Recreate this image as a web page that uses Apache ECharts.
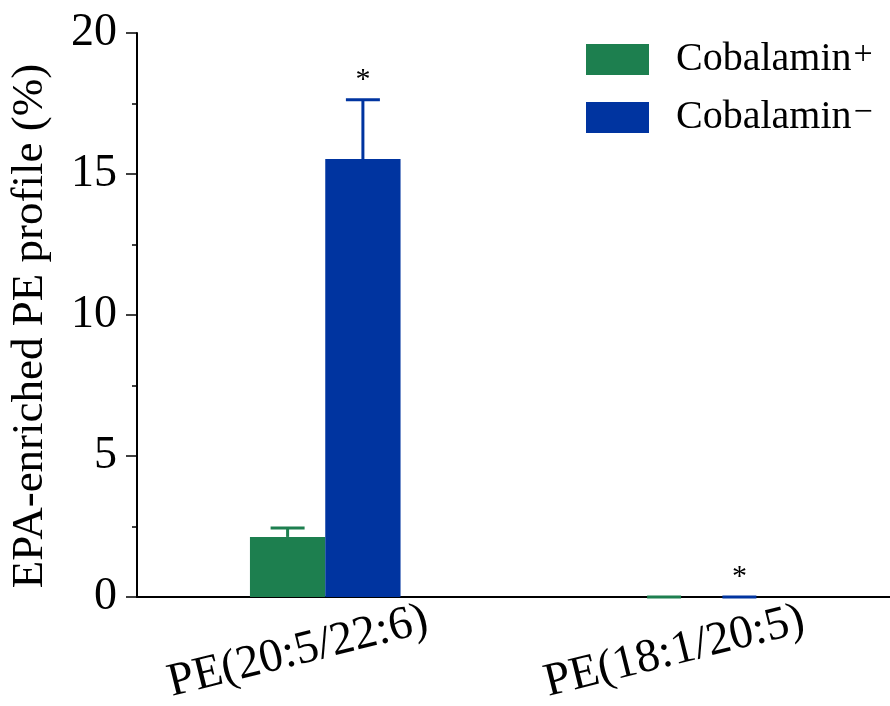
<!DOCTYPE html>
<html><head><meta charset="utf-8">
<script src="https://cdn.jsdelivr.net/npm/echarts@6/dist/echarts.min.js"></script>
<style>html,body{margin:0;padding:0;background:#fff}#c{width:890px;height:706px}</style>
</head><body><div id="c"></div>
<script>
const categories = ['PE(20:5/22:6)', 'PE(18:1/20:5)'];
const plusValues = [2.13, 0];
const plusErrors = [0.32, 0];
const minusValues = [15.53, 0];
const minusErrors = [2.1, 0];
const minusSignificant = [true, true];
const yTicks = [0, 5, 10, 15, 20];

const green = '#1d7f4f';
const blue = '#0034a0';
const font = '"Liberation Serif", "Times New Roman", serif';

const chart = echarts.init(document.getElementById('c'));

function errorSeries(name, values, errors, color, offsetIndex, stars) {
  return {
    type: 'custom',
    name: name + '_err',
    z: 5,
    data: values.map((v, i) => [i, v, v + errors[i], stars ? (stars[i] ? 1 : 0) : 0]),
    renderItem(params, api) {
      const i = api.value(0);
      const base = api.coord([i, api.value(1)]);
      const top = api.coord([i, api.value(2)]);
      const bandW = api.size([1, 0])[0];
      const barW = bandW * 0.2;
      const cx = base[0] + (offsetIndex === 0 ? -barW / 2 : barW / 2);
      const half = 17;
      const children = [];
      if (api.value(2) > api.value(1)) {
        children.push({type: 'line', shape: {x1: cx, y1: base[1], x2: cx, y2: top[1]}, style: {stroke: color, lineWidth: 3}});
      }
      children.push({type: 'line', shape: {x1: cx - half, y1: top[1], x2: cx + half, y2: top[1]}, style: {stroke: color, lineWidth: 3}});
      if (api.value(3)) {
        children.push({type: 'text', style: {text: '*', x: cx, y: top[1] - 5, align: 'center', verticalAlign: 'bottom', font: '30px ' + font, fill: '#000'}});
      }
      return {type: 'group', children};
    }
  };
}

chart.setOption({
  animation: false,
  grid: {left: 137, top: 33, right: 0, bottom: 109, containLabel: false, outerBoundsMode: 'none'},
  legend: {
    left: 586, top: 38, orient: 'vertical', itemWidth: 63, itemHeight: 31, itemGap: 15,
    padding: 0, icon: 'rect',
    data: ['Cobalamin+', 'Cobalamin-'],
    formatter: n => n === 'Cobalamin+' ? '{m|Cobalamin}{sup|+}' : '{m|Cobalamin}{sup|\u2212}',
    textStyle: {fontFamily: font, fontSize: 40, lineHeight: 43, color: '#000', padding: [0, 0, 0, 22],
      rich: {
        m: {fontFamily: font, fontSize: 40, lineHeight: 43, color: '#000'},
        sup: {fontFamily: font, fontSize: 34, lineHeight: 24, color: '#000', verticalAlign: 'top', padding: [0, 0, 0, 2]}
      }}
  },
  xAxis: {
    type: 'category', data: categories,
    axisLine: {lineStyle: {color: '#000', width: 2}},
    axisTick: {alignWithLabel: true, length: 11, lineStyle: {color: '#000', width: 1.5}},
    axisLabel: {rotate: 14, fontFamily: font, fontSize: 47, color: '#000', align: 'center', verticalAlign: 'middle',
      margin: 48, padding: [0, 56, 0, 0]}
  },
  yAxis: {
    type: 'value', min: 0, max: 20, interval: 5,
    name: 'EPA-enriched PE profile (%)', nameLocation: 'middle', nameGap: 84,
    nameTextStyle: {fontFamily: font, fontSize: 45, color: '#000', padding: [0, 22, 0, 0]},
    axisLine: {show: true, lineStyle: {color: '#000', width: 2}},
    axisTick: {show: true, length: 11, lineStyle: {color: '#000', width: 1.5}},
    minorTick: {show: true, splitNumber: 2, length: 5, lineStyle: {color: '#000', width: 1.5}},
    splitLine: {show: false},
    axisLabel: {fontFamily: font, fontSize: 46, color: '#000', margin: 20,
      formatter: v => yTicks.includes(v) ? String(v) : ''}
  },
  series: [
    {name: 'Cobalamin+', type: 'bar', data: plusValues, barWidth: '20%', barGap: '0%', itemStyle: {color: green}},
    {name: 'Cobalamin-', type: 'bar', data: minusValues, barWidth: '20%', barGap: '0%', itemStyle: {color: blue}},
    errorSeries('Cobalamin+', plusValues, plusErrors, green, 0, null),
    errorSeries('Cobalamin-', minusValues, minusErrors, blue, 1, minusSignificant)
  ]
});
</script></body></html>
